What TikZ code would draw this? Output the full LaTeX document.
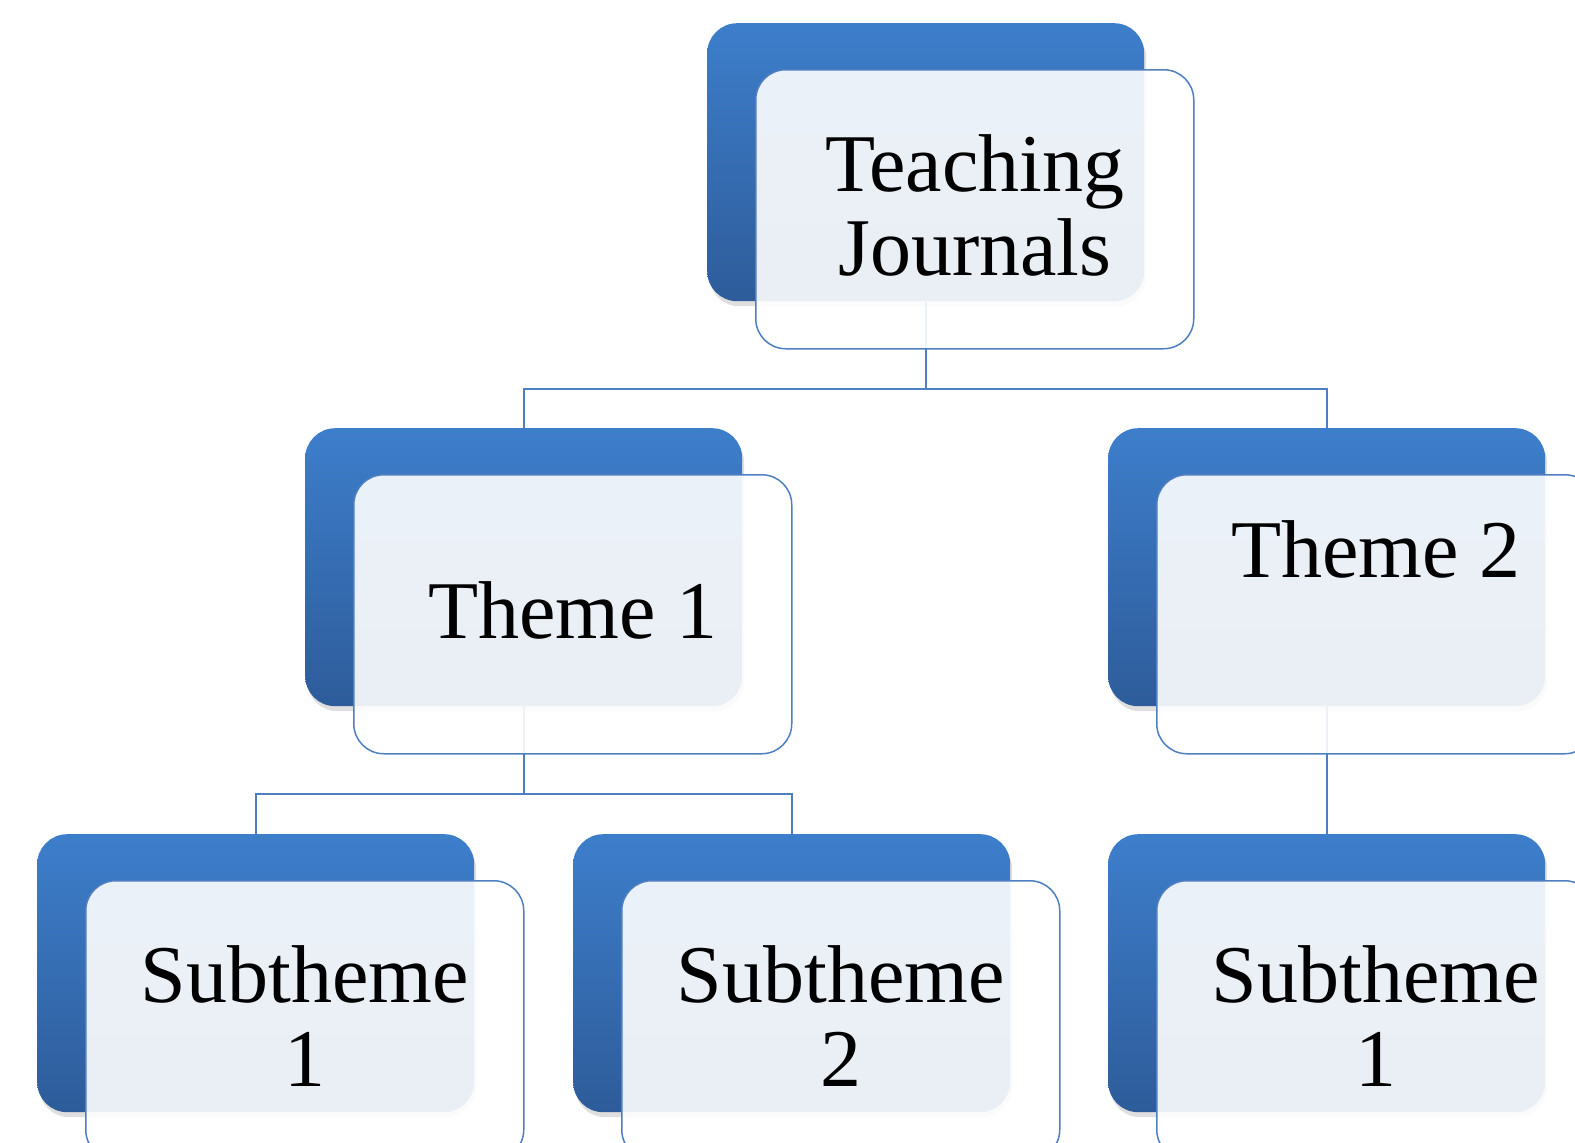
\documentclass[tikz,border=0pt]{standalone}
\usepackage{fontspec}
\setmainfont{Liberation Serif}
\usetikzlibrary{positioning, calc, shadows, backgrounds}
\definecolor{boxtop}{HTML}{3D7ECB}
\definecolor{boxbot}{HTML}{2E5C9A}
\definecolor{lineblue}{HTML}{4F7FC0}

\begin{document}
\begin{tikzpicture}[x=1pt, y=-1pt,
  backbox/.style={rectangle, rounded corners=30pt, anchor=north west,
    minimum width=437pt, minimum height=278pt,
    top color=boxtop, bottom color=boxbot,
    drop shadow={shadow xshift=2pt, shadow yshift=-5pt, opacity=0.25}},
  frontbox/.style={rectangle, rounded corners=30pt, anchor=north west,
    minimum width=438pt, minimum height=279pt, inner sep=0pt, text depth=9pt,
    draw=lineblue, line width=1.5pt, fill=white, fill opacity=0.9,
    text opacity=1, align=center, font=\fontsize{82}{84}\selectfont},
  link/.style={lineblue, line width=2pt}]
  \useasboundingbox (0,0) rectangle (1575,1143);

  % Blue boxes behind
  \foreach \n/\x/\y in {root/707/23, tone/305/428, ttwo/1108/428,
    sone/37/834, stwo/573/834, sthree/1108/834}
    \node[backbox] (\n-back) at (\x,\y) {};

  % Light boxes with the text
  \node[frontbox] (root) at ([shift={(48,46)}]root-back.north west) {Teaching\\Journals};
  \node[frontbox] (tone) at ([shift={(48,46)}]tone-back.north west) {Theme 1};
  \node[frontbox, text height=55pt, text depth=128pt] (ttwo)
    at ([shift={(48,46)}]ttwo-back.north west) {Theme 2};
  \node[frontbox] (sone) at ([shift={(48,46)}]sone-back.north west) {Subtheme\\1};
  \node[frontbox] (stwo) at ([shift={(48,46)}]stwo-back.north west) {Subtheme\\2};
  \node[frontbox] (sthree) at ([shift={(48,46)}]sthree-back.north west) {Subtheme\\1};

  % Tree lines
  \coordinate (j0) at ($(root.south)!0.5!(tone-back.north)$);
  \coordinate (j1) at ($(tone.south)!0.5!(sone-back.north)$);
  \begin{scope}[on background layer]
    \draw[link] (root-back.south) -- (root-back.south |- j0) -| (tone-back.north);
    \draw[link] (root-back.south |- j0) -| (ttwo-back.north);
    \draw[link] (tone-back.south) -- (tone-back.south |- j1) -| (sone-back.north);
    \draw[link] (tone-back.south |- j1) -| (stwo-back.north);
    \draw[link] (ttwo-back.south) -- (sthree-back.north);
  \end{scope}
\end{tikzpicture}
\end{document}
